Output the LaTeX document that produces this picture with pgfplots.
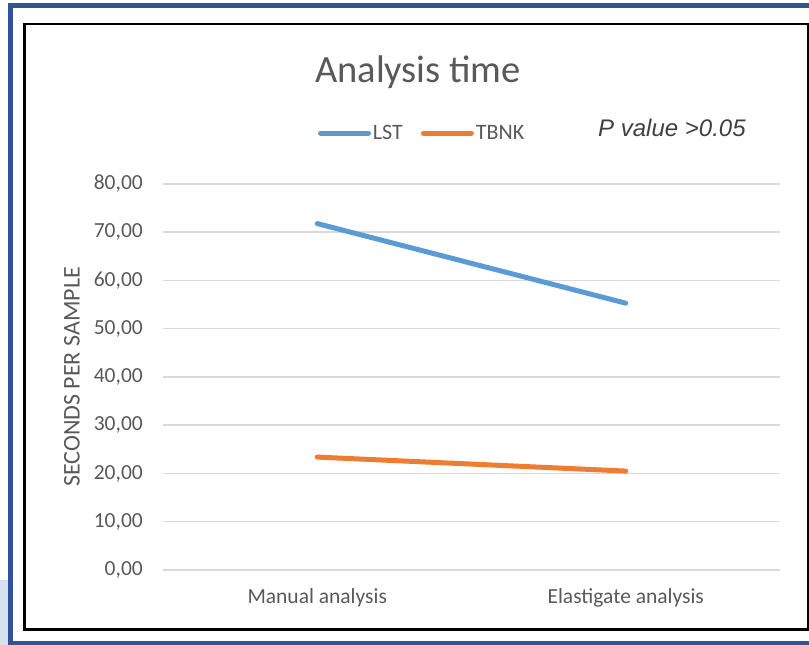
\documentclass[border=0pt]{standalone}
\usepackage{pgfplots}
\pgfplotsset{compat=1.18}
\usepackage{fontspec}
\setmainfont{Carlito}
\newfontfamily\pfont{Liberation Sans}
\definecolor{lstblue}{HTML}{5B9BD5}
\definecolor{tbnkorange}{HTML}{ED7D31}
\definecolor{gridgray}{HTML}{D9D9D9}
\definecolor{txtgray}{HTML}{595959}
\definecolor{framblue}{HTML}{2F5597}
\definecolor{lightblue}{HTML}{D5E3F1}
\begin{document}
\begin{tikzpicture}
\useasboundingbox (0,0) rectangle (809pt,645pt);
\fill[white] (0,0) rectangle (809pt,645pt);
\fill[lightblue] (0,0) rectangle (8pt,65pt);
\draw[framblue, line width=5pt] (809pt,639.5pt) -- (10.5pt,639.5pt) -- (10.5pt,1.5pt) -- (809pt,1.5pt);
\draw[black, line width=2.5pt] (24.5pt,15.5pt) rectangle (808pt,621pt);
\begin{axis}[
  at={(163pt,75pt)}, anchor=south west,
  width=617pt, height=386pt, scale only axis,
  xmin=-0.5, xmax=1.5, ymin=0, ymax=80,
  xtick={0,1}, xticklabels={Manual analysis, Elastigate analysis},
  ytick={0,10,...,80},
  axis line style={draw=none},
  major tick length=0pt,
  ymajorgrids, grid style={gridgray, line width=1.5pt},
  /pgf/number format/.cd, fixed, fixed zerofill, precision=2, use comma, assume math mode=true,
  /pgfplots/.cd,
  ticklabel style={font=\fontsize{21.5}{26}\selectfont, text=txtgray},
  yticklabel style={inner sep=0pt, anchor=east, xshift=-20pt},
  xticklabel style={inner sep=0pt, anchor=north, yshift=-18pt},
  ylabel={SECONDS PER SAMPLE},
  ylabel style={at={(axis description cs:-0.1475,0.5)}, rotate=0, anchor=center, font=\fontsize{24}{28}\selectfont, text=txtgray, inner sep=0pt},
  legend columns=2,
  legend style={draw=none, fill=none, inner sep=0pt, outer sep=0pt,
    at={(0.2512,1.132)}, anchor=west,
    font=\fontsize{22}{26}\selectfont, text=txtgray,
    nodes={inner sep=2pt},
    /tikz/every even column/.append style={column sep=16pt}},
  legend image code/.code={\draw[#1, line width=5pt, line cap=round] (0pt,0pt) -- (48pt,0pt);},
  clip=false,
]
\addplot[lstblue, line width=5pt, line cap=round] coordinates {(0,71.8) (1,55.3)};
\addlegendentry{LST}
\addplot[tbnkorange, line width=5pt, line cap=round] coordinates {(0,23.4) (1,20.5)};
\addlegendentry{TBNK}
\end{axis}
\node[text=txtgray, font=\fontsize{38.5}{44}\selectfont] at (418pt,573pt) {Analysis time};
\node[text=black!75, font=\pfont\itshape\fontsize{24}{28}\selectfont, anchor=west, inner sep=0pt] at (598pt,517pt) {P value >0.05};
\end{tikzpicture}
\end{document}
